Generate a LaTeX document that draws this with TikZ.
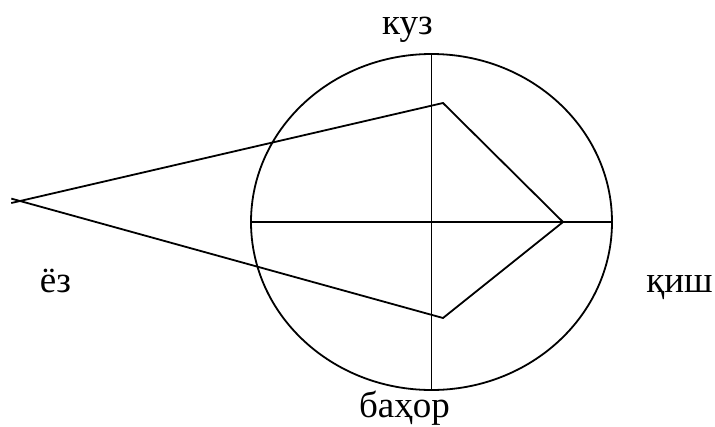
\documentclass[tikz,border=0pt]{standalone}
\usepackage{fontspec}
\setmainfont{Liberation Serif}
\usetikzlibrary{calc}

\begin{document}
\begin{tikzpicture}[
  x=1pt, y=-1pt,
  font=\fontsize{37}{42}\selectfont,
  season/.style={inner sep=0pt, anchor=base},
  axis/.style={line width=1.8pt},
  kite/.style={line width=1.8pt, line join=miter}
]
\useasboundingbox (0,0) rectangle (715,426);

% Circle and axes
\draw[axis] (431.5,222) ellipse [x radius=180.5, y radius=168];
\coordinate (N) at (431.5,54);
\coordinate (S) at (431.5,390);
\coordinate (W) at (251,222);
\coordinate (E) at (612,222);
\draw[axis] (N) -- (S);
\draw[axis] (W) -- (E);

% Kite
\coordinate (tip) at (20,201);
\coordinate (top) at (443,103);
\coordinate (right) at (563,222);
\coordinate (bottom) at (443,318);
\draw[kite, shorten <=-9pt, shorten >=-9pt] (tip) -- (top) -- (right) -- (bottom) -- (tip);

% Labels
\node[season] (kuz) at (407.5,34) {куз};
\node[season] (bahor) at (404.5,417) {баҳор};
\node[season] (yoz) at (55.5,292) {ёз};
\node[season] (qish) at (679.5,292) {қиш};

\end{tikzpicture}
\end{document}
